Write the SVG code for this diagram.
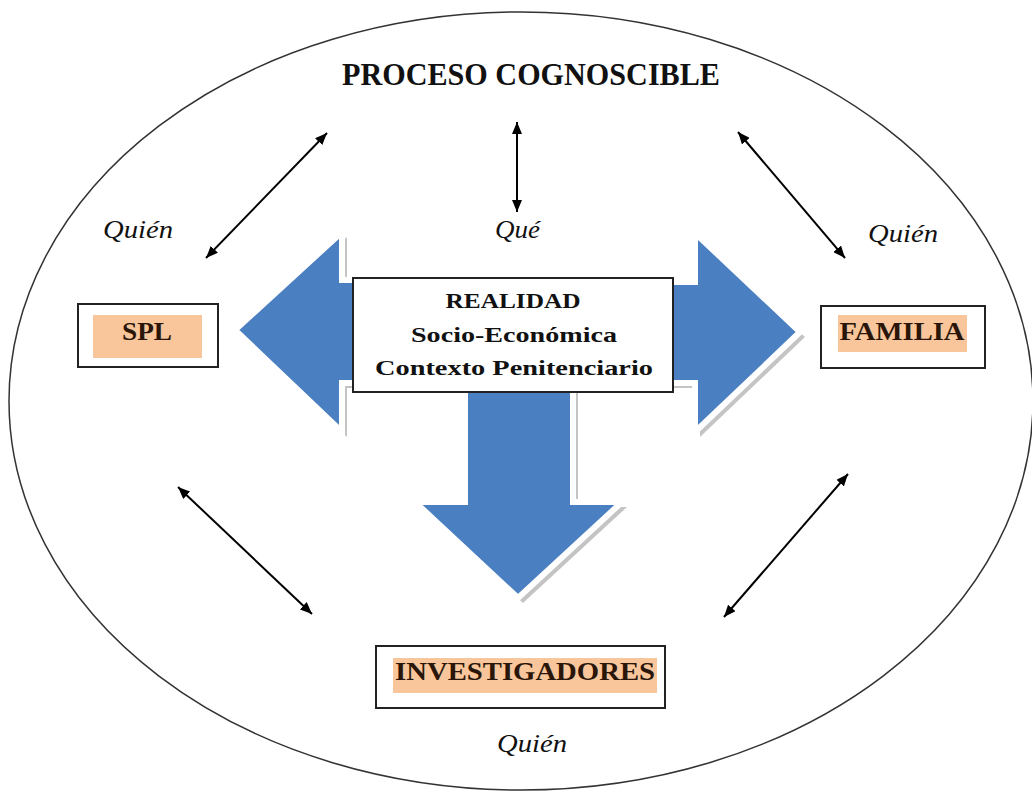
<svg xmlns="http://www.w3.org/2000/svg" width="1032" height="794" viewBox="0 0 1032 794">
<defs>
<marker id="ah" viewBox="0 0 12 10" refX="12" refY="5" markerWidth="12" markerHeight="10" markerUnits="userSpaceOnUse" orient="auto-start-reverse">
<path d="M0,0 L12,5 L0,10 z" fill="#000"/>
</marker>
<style>
.title{font-family:"Liberation Serif","Times New Roman",serif;font-weight:bold;font-size:31px;fill:#111;}
.ctr{font-family:"Liberation Serif","Times New Roman",serif;font-weight:bold;font-size:22px;fill:#111;}
.lbl{font-family:"Liberation Serif","Times New Roman",serif;font-weight:bold;font-size:26px;fill:#2a1609;}
.it{font-family:"Liberation Serif","Times New Roman",serif;font-style:italic;font-size:26px;fill:#111;}
.box{fill:#fff;stroke:#222;stroke-width:2;}
.hl{fill:#f9c69c;}
.shadow{fill:#c4c4c4;}
.blue{fill:#4a7fc1;stroke:#fff;stroke-width:6;stroke-linejoin:miter;}
.conn{stroke:#000;stroke-width:2;fill:none;marker-start:url(#ah);marker-end:url(#ah);}
</style>
</defs>
<rect width="1032" height="794" fill="#fff"/>
<g id="ellipse">
<ellipse cx="521" cy="401" rx="512" ry="389" fill="none" stroke="#333" stroke-width="1.5"/>
</g>
<g id="title">
<text class="title" x="531" y="85" text-anchor="middle" textLength="378" lengthAdjust="spacingAndGlyphs">PROCESO COGNOSCIBLE</text>
</g>
<g id="big-arrows">
<polygon class="shadow" transform="translate(5,5)" points="235,330 342,232 342,280 420,280 420,383 342,383 342,432"/>
<polygon class="shadow" transform="translate(5,5)" points="800,332 695,432 695,383 620,383 620,282 695,282 695,233"/>
<polygon class="shadow" transform="translate(5,5)" points="465,360 573,360 573,502 622,502 518,598 415,502 465,502"/>
<polygon class="blue" points="235,330 342,232 342,280 420,280 420,383 342,383 342,432"/>
<polygon class="blue" points="800,332 695,432 695,383 620,383 620,282 695,282 695,233"/>
<polygon class="blue" points="465,360 573,360 573,502 622,502 518,598 415,502 465,502"/>
</g>
<g id="realidad">
<rect class="box" x="353" y="278" width="320" height="114"/>
<text class="ctr" x="513" y="308" text-anchor="middle" textLength="135" lengthAdjust="spacingAndGlyphs">REALIDAD</text>
<text class="ctr" x="514" y="342" text-anchor="middle" textLength="206" lengthAdjust="spacingAndGlyphs">Socio-Económica</text>
<text class="ctr" x="514" y="375" text-anchor="middle" textLength="278" lengthAdjust="spacingAndGlyphs">Contexto Penitenciario</text>
</g>
<g id="spl">
<rect class="box" x="78" y="304" width="140" height="63"/>
<rect class="hl" x="93" y="315" width="109" height="43"/>
<text class="lbl" x="147" y="340" text-anchor="middle" textLength="50" lengthAdjust="spacingAndGlyphs">SPL</text>
</g>
<g id="familia">
<rect class="box" x="821" y="306" width="164" height="62"/>
<rect class="hl" x="838" y="315" width="129" height="37"/>
<text class="lbl" x="902" y="340" text-anchor="middle" textLength="125" lengthAdjust="spacingAndGlyphs">FAMILIA</text>
</g>
<g id="investigadores">
<rect class="box" x="376" y="646" width="289" height="62"/>
<rect class="hl" x="393" y="658" width="264" height="35"/>
<text class="lbl" x="525" y="680" text-anchor="middle" textLength="260" lengthAdjust="spacingAndGlyphs">INVESTIGADORES</text>
</g>
<g id="connectors">
<line class="conn" x1="327" y1="133" x2="206" y2="258"/>
<line class="conn" x1="517" y1="122" x2="517" y2="212"/>
<line class="conn" x1="738" y1="132" x2="845" y2="258"/>
<line class="conn" x1="178" y1="487" x2="312" y2="614"/>
<line class="conn" x1="848" y1="474" x2="724" y2="617"/>
</g>
<g id="labels">
<text class="it" x="103" y="238" textLength="70" lengthAdjust="spacingAndGlyphs">Quién</text>
<text class="it" x="495" y="238" textLength="45" lengthAdjust="spacingAndGlyphs">Qué</text>
<text class="it" x="868" y="242" textLength="70" lengthAdjust="spacingAndGlyphs">Quién</text>
<text class="it" x="497" y="752" textLength="70" lengthAdjust="spacingAndGlyphs">Quién</text>
</g>
</svg>
